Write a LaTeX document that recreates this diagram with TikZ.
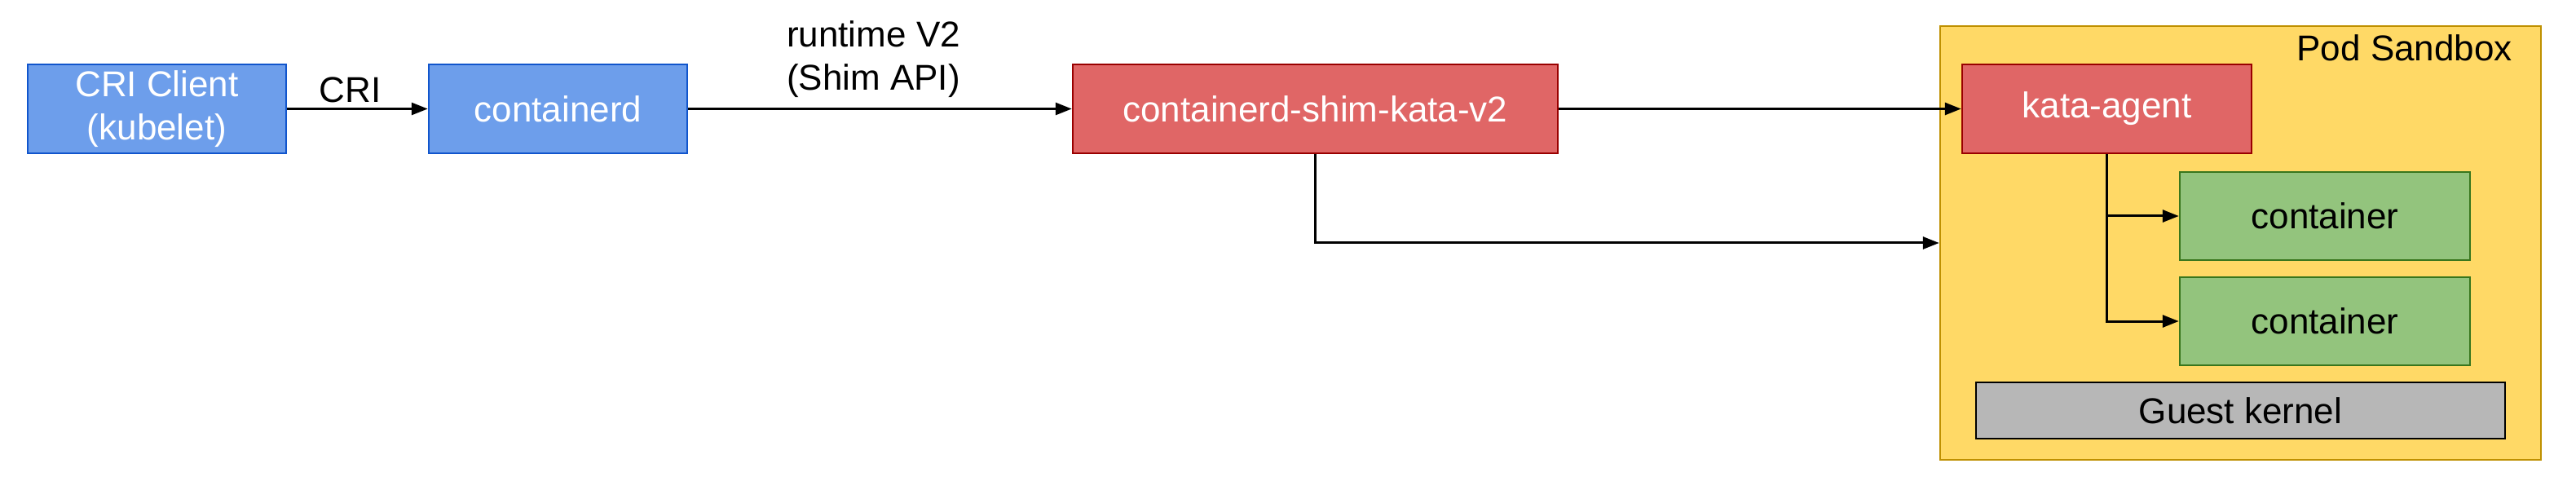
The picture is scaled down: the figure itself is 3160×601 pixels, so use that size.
\documentclass[tikz,border=0pt]{standalone}
\usepackage{fontspec}
\setmainfont{Liberation Sans}
\usetikzlibrary{arrows.meta}
\definecolor{bluefill}{HTML}{6D9EEB}
\definecolor{blueline}{HTML}{1155CC}
\definecolor{redfill}{HTML}{E06666}
\definecolor{redline}{HTML}{990000}
\definecolor{greenfill}{HTML}{93C47D}
\definecolor{greenline}{HTML}{38761D}
\definecolor{podfill}{HTML}{FFD966}
\definecolor{podline}{HTML}{BF9000}
\definecolor{kernfill}{HTML}{B7B7B7}
\tikzset{
  txt/.style={font=\fontsize{44pt}{53pt}\selectfont, inner sep=0pt},
  boxbase/.style={txt, rectangle, draw, line width=2.5pt, align=center},
  bluebox/.style={boxbase, fill=bluefill, draw=blueline, text=white},
  redbox/.style={boxbase, fill=redfill, draw=redline, text=white},
  greenbox/.style={boxbase, fill=greenfill, draw=greenline, text=black},
  kernbox/.style={boxbase, fill=kernfill, draw=black, text=black},
  podbox/.style={rectangle, draw=podline, fill=podfill, line width=2.5pt, inner sep=0pt},
  arr/.style={draw=black, line width=3pt, -{Triangle[length=20pt,width=15pt]}},
}
\begin{document}
\begin{tikzpicture}[x=1pt,y=-1pt]
\useasboundingbox (0,0) rectangle (3160,601);
% Pod sandbox
\node[podbox, minimum width=737pt, minimum height=532pt] (pod) at (2748.5,298) {};
\node[txt, anchor=base east] (podlabel) at (3082,75) {Pod Sandbox};
% boxes
\node[bluebox, minimum width=317pt, minimum height=109pt] (cri) at (192.5,133.5) {CRI Client\\(kubelet)};
\node[bluebox, minimum width=317pt, minimum height=109pt] (containerd) at (684.5,133.5) {containerd};
\node[redbox, minimum width=595pt, minimum height=109pt] (shim) at (1613.5,133.5) {containerd-shim-kata-v2};
\node[redbox, minimum width=355pt, minimum height=109pt] (kata) at (2584.5,133.5) {kata-agent};
\node[greenbox, minimum width=356pt, minimum height=108pt] (c1) at (2852,265) {container};
\node[greenbox, minimum width=356pt, minimum height=108pt] (c2) at (2852,394) {container};
\node[kernbox, minimum width=649pt, minimum height=69pt] (kernel) at (2748.5,503.5) {Guest kernel};
% connectors
\draw[arr] (cri.east) -- node[txt, anchor=base, yshift=8pt, xshift=-9pt] {CRI} (containerd.west);
\draw[arr] (containerd.east) -- node[txt, anchor=south, align=center, yshift=12pt, xshift=-8pt] {runtime V2\\(Shim API)} (shim.west);
\draw[arr] (shim.east) -- (kata.west);
\draw[arr] (shim.south) |- (pod.west);
\draw[arr] (kata.south) |- (c1.west);
\draw[arr] (kata.south) |- (c2.west);
\end{tikzpicture}
\end{document}
